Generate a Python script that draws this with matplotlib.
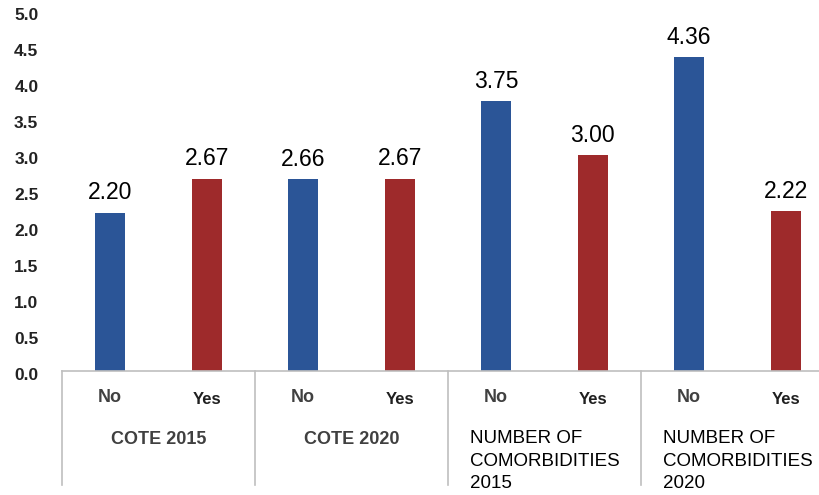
import matplotlib
matplotlib.use("Agg")
import matplotlib.pyplot as plt
from matplotlib.lines import Line2D
from matplotlib.transforms import ScaledTranslation

plt.rcParams['font.family'] = ['Liberation Sans', 'DejaVu Sans']

groups = ["COTE 2015", "COTE 2020", "NUMBER OF\nCOMORBIDITIES\n2015", "NUMBER OF\nCOMORBIDITIES\n2020"]
sub_labels = ["No", "Yes"]
values = [2.20, 2.67, 2.66, 2.67, 3.75, 3.00, 4.36, 2.22]
value_text = ["2.20", "2.67", "2.66", "2.67", "3.75", "3.00", "4.36", "2.22"]
yticks = [0.0, 0.5, 1.0, 1.5, 2.0, 2.5, 3.0, 3.5, 4.0, 4.5, 5.0]

blue = "#2B5597"
red = "#9E2A2B"
grid_gray = "#BFBFBF"

W, H = 819, 495
fig = plt.figure(figsize=(W/100, H/100), dpi=100)
left_px, right_px, top_px, bot_px = 62, 819, 11, 371
ax = fig.add_axes([left_px/W, 1-bot_px/H, (right_px-left_px)/W, (bot_px-top_px)/H])

n = len(values)
x = list(range(n))
colors = [blue if i % 2 == 0 else red for i in range(n)]
ax.bar(x, values, width=0.31, color=colors, zorder=2)
for xi, v, t in zip(x, values, value_text):
    ax.annotate(t, (xi, v), xytext=(0, 6), textcoords="offset points",
                ha="center", va="bottom", fontsize=16.5, color="black")

slot_px = 96.5
ax.set_xlim(-0.5, -0.5 + (right_px-left_px)/slot_px)
ax.set_ylim(0, 5)
ax.set_yticks(yticks)
ax.set_yticklabels([f"{t:.1f}" for t in yticks], fontsize=12.5, fontweight="bold", color="#222222")
ax.tick_params(axis="y", length=0, pad=17)
for lab in ax.get_yticklabels():
    lab.set_transform(lab.get_transform() + ScaledTranslation(0, -3/100, fig.dpi_scale_trans))
ax.set_xticks([])
for s in ["left", "right", "top"]:
    ax.spines[s].set_visible(False)
ax.spines["bottom"].set_color(grid_gray)
ax.spines["bottom"].set_linewidth(1.2)

trans = ax.get_xaxis_transform()
axh = bot_px - top_px
def yax(px):
    return (bot_px - px) / axh

for i in range(n):
    lab = sub_labels[i % 2]
    if lab == "No":
        ax.text(i, yax(398), lab, transform=trans, ha="center", va="center",
                fontsize=13, fontweight="bold", color="#404040")
    else:
        ax.text(i, yax(400), lab, transform=trans, ha="center", va="center",
                fontsize=12, fontweight="bold", color="#202020")

for b in [-0.5, 1.5, 3.5, 5.5]:
    ax.add_line(Line2D([b, b], [0, yax(485)], transform=trans, color=grid_gray,
                       linewidth=1.2, clip_on=False))

for g, name in enumerate(groups):
    cx = 2*g + 0.5
    if "\n" in name:
        ax.text(cx, yax(461), name, transform=trans, ha="center", va="center",
                multialignment="left", fontsize=13.5, color="black", linespacing=1.45)
    else:
        ax.text(cx, yax(440), name, transform=trans, ha="center", va="center",
                fontsize=13, fontweight="bold", color="#404040")

fig.savefig("out.png", dpi=100)
